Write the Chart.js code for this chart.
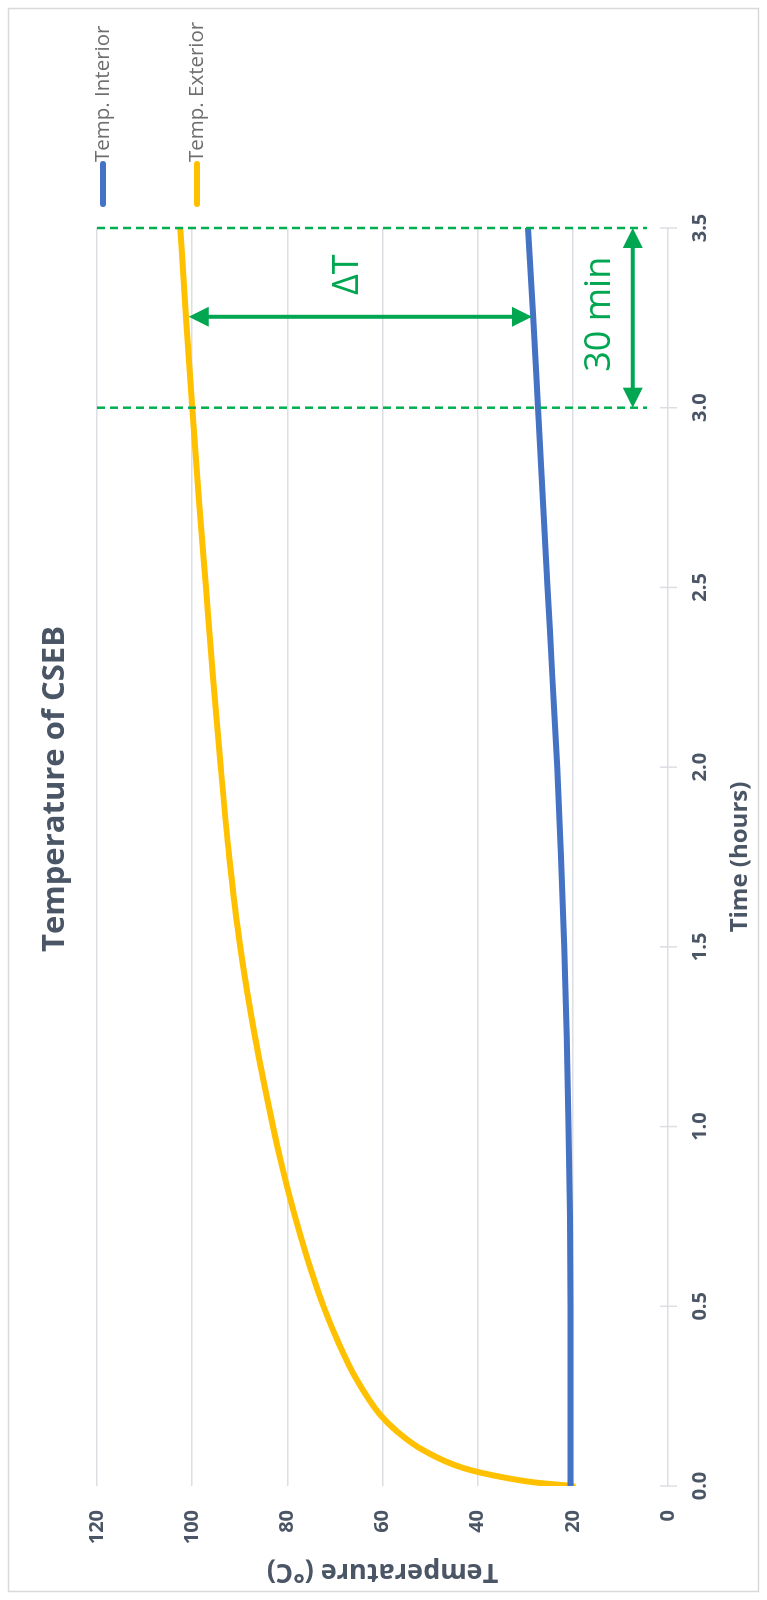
<!DOCTYPE html>
<html><head><meta charset="utf-8">
<script src="https://cdn.jsdelivr.net/npm/chart.js@4.4.1/dist/chart.umd.min.js"></script>
<style>
html,body{margin:0;padding:0;background:#fff;}
#wrap{position:relative;width:767px;height:1600px;overflow:hidden;background:#fff;}
#rot{position:absolute;left:0;top:0;width:1600px;height:767px;transform-origin:0 0;transform:translate(0,1600px) rotate(-90deg);}
canvas{display:block;}
</style></head><body>
<div id="wrap"><div id="rot"><canvas id="c" width="1600" height="767" style="width:1600px;height:767px"></canvas></div></div>
<script>
// ---- data ----
const chartTitle = 'Temperature of CSEB';
const xTitle = 'Time (hours)';
const yTitle = 'Temperature (°C)';
const seriesNames = ['Temp. Interior', 'Temp. Exterior'];
const interiorTime = [0, 0.25, 0.5, 0.75, 1.0, 1.25, 1.5, 1.75, 2.0, 2.25, 2.5, 2.75, 3.0, 3.25, 3.5];
const interiorTemp = [20.5, 20.5, 20.5, 20.6, 20.9, 21.3, 21.8, 22.5, 23.3, 24.3, 25.3, 26.3, 27.3, 28.3, 29.4];
const exteriorTime = [0, 0.01, 0.025, 0.05, 0.1, 0.15, 0.2, 0.3, 0.4, 0.5, 0.6, 0.7, 0.8, 0.9, 1.0, 1.25, 1.5, 1.75, 2.0, 2.25, 2.5, 2.75, 3.0, 3.25, 3.5];
const exteriorTemp = [20, 28, 35, 43, 51.5, 56.8, 60.6, 65.6, 69.3, 72.4, 75.0, 77.3, 79.4, 81.3, 83.0, 86.8, 89.9, 92.2, 94.0, 95.6, 97.1, 98.6, 100.0, 101.3, 102.5];
const xTicks = [0, 0.5, 1.0, 1.5, 2.0, 2.5, 3.0, 3.5];
const yTicks = [0, 20, 40, 60, 80, 100, 120];
// annotation values (data units)
const markerTimes = [3.0, 3.5];
const markerTempRange = [120, 4.4];
const spanArrow = {t0: 3.0, t1: 3.5, temp: 7.4, label: '30 min', labelT: 3.26, labelTemp: 14.3};
const deltaArrow = {t: 3.253, temp0: 28.6, temp1: 100.7, label: 'ΔT', labelT: 3.37, labelTemp: 67.2};

// ---- styles ----
const BLUE = '#4472C4', ORANGE = '#FFC000', GREEN = '#00B050', GRID = '#dcdee3';
const TXT = '#4a5565', LEG = '#6e6e6e', FONT = "'Open Sans', sans-serif";

function dblArrow(ctx, x1, y1, x2, y2, head, hw, lw) {
  const a = Math.atan2(y2 - y1, x2 - x1), ux = Math.cos(a), uy = Math.sin(a);
  ctx.lineWidth = lw;
  ctx.beginPath();
  ctx.moveTo(x1 + ux * head * 0.8, y1 + uy * head * 0.8);
  ctx.lineTo(x2 - ux * head * 0.8, y2 - uy * head * 0.8);
  ctx.stroke();
  [[x1, y1, 1], [x2, y2, -1]].forEach(([px, py, s]) => {
    ctx.beginPath();
    ctx.moveTo(px, py);
    ctx.lineTo(px + s * ux * head - uy * hw, py + s * uy * head + ux * hw);
    ctx.lineTo(px + s * ux * head + uy * hw, py + s * uy * head - ux * hw);
    ctx.closePath();
    ctx.fill();
  });
}

const deco = {
  id: 'deco',
  afterDatasetsDraw(chart) {
    const {ctx, chartArea: ca, scales: {x, y}} = chart;
    ctx.save();
    // crossing tick marks on the time axis
    ctx.strokeStyle = GRID; ctx.lineWidth = 1.5;
    xTicks.forEach(v => {
      const px = x.getPixelForValue(v);
      ctx.beginPath(); ctx.moveTo(px, ca.bottom - 8); ctx.lineTo(px, ca.bottom + 9); ctx.stroke();
    });
    // dashed reference lines
    ctx.strokeStyle = GREEN; ctx.lineWidth = 2.5; ctx.setLineDash([8, 5]);
    markerTimes.forEach(t => {
      const px = x.getPixelForValue(t);
      ctx.beginPath();
      ctx.moveTo(px, y.getPixelForValue(markerTempRange[0]));
      ctx.lineTo(px, y.getPixelForValue(markerTempRange[1]));
      ctx.stroke();
    });
    ctx.setLineDash([]);
    ctx.fillStyle = '#00A650';
    ctx.strokeStyle = '#00A650';
    dblArrow(ctx, x.getPixelForValue(spanArrow.t0), y.getPixelForValue(spanArrow.temp),
             x.getPixelForValue(spanArrow.t1), y.getPixelForValue(spanArrow.temp), 20, 10, 4);
    dblArrow(ctx, x.getPixelForValue(deltaArrow.t), y.getPixelForValue(deltaArrow.temp0),
             x.getPixelForValue(deltaArrow.t), y.getPixelForValue(deltaArrow.temp1), 20, 10, 4);
    ctx.font = '36px ' + FONT; ctx.textAlign = 'center'; ctx.textBaseline = 'middle';
    ctx.fillText(spanArrow.label, x.getPixelForValue(spanArrow.labelT), y.getPixelForValue(spanArrow.labelTemp));
    ctx.fillText(deltaArrow.label, x.getPixelForValue(deltaArrow.labelT), y.getPixelForValue(deltaArrow.labelTemp));
    ctx.restore();
  },
  afterDraw(chart) {
    const {ctx, chartArea: ca, width, height} = chart;
    ctx.save();
    // frame
    ctx.strokeStyle = '#d9d9d9'; ctx.lineWidth = 1.5;
    ctx.strokeRect(8.5, 8.5, width - 17, height - 17);
    // title
    ctx.fillStyle = TXT; ctx.font = 'bold 31px ' + FONT;
    ctx.textAlign = 'center'; ctx.textBaseline = 'middle';
    ctx.fillText(chartTitle, width / 2 + 11, 55);
    // legend
    chart.data.datasets.forEach((ds, i) => {
      const yy = ca.top + 6 + i * 94;
      const x0 = ca.right + 24;
      ctx.strokeStyle = ds.borderColor; ctx.lineWidth = 6; ctx.lineCap = 'round';
      ctx.beginPath(); ctx.moveTo(x0, yy); ctx.lineTo(x0 + 40, yy); ctx.stroke();
      ctx.fillStyle = LEG; ctx.font = '20.5px ' + FONT; ctx.textAlign = 'left';
      ctx.fillText(ds.label, x0 + 42, yy);
    });
    ctx.restore();
  }
};

new Chart(document.getElementById('c'), {
  type: 'line',
  data: {
    datasets: [
      {label: seriesNames[0], data: interiorTime.map((t, i) => ({x: t, y: interiorTemp[i]})),
       borderColor: BLUE, backgroundColor: BLUE, borderWidth: 6, pointRadius: 0, cubicInterpolationMode: 'monotone', borderCapStyle: 'round'},
      {label: seriesNames[1], data: exteriorTime.map((t, i) => ({x: t, y: exteriorTemp[i]})),
       borderColor: ORANGE, backgroundColor: ORANGE, borderWidth: 6, pointRadius: 0, cubicInterpolationMode: 'monotone', borderCapStyle: 'round'}
    ]
  },
  options: {
    responsive: false, animation: false, devicePixelRatio: 1,
    layout: {padding: {top: 97, right: 228, left: 0, bottom: 0}},
    plugins: {legend: {display: false}, title: {display: false}, tooltip: {enabled: false}},
    scales: {
      x: {
        type: 'linear', min: 0, max: 3.5,
        afterBuildTicks: s => { s.ticks = xTicks.map(v => ({value: v})); },
        afterFit: s => { s.height = 99; },
        grid: {display: false, drawTicks: false},
        border: {display: false},
        ticks: {padding: 20, color: TXT, font: {family: FONT, size: 20, weight: 'bold'}, callback: v => Number(v).toFixed(1)},
        title: {display: true, text: xTitle, color: TXT, font: {family: FONT, size: 24, weight: 'bold'}, padding: {top: 0, bottom: 12}}
      },
      y: {
        min: 0, max: 120,
        afterBuildTicks: s => { s.ticks = yTicks.map(v => ({value: v})); },
        afterFit: s => { s.width = 114; },
        grid: {color: GRID, lineWidth: 1.5, drawTicks: false},
        border: {display: false},
        ticks: {padding: 24, color: TXT, font: {family: FONT, size: 20, weight: 'bold'}},
        title: {display: true, text: yTitle, color: TXT, font: {family: FONT, size: 27, weight: 'bold'}, padding: {top: 12, bottom: 0}}
      }
    }
  },
  plugins: [deco]
});
</script>
</body></html>
